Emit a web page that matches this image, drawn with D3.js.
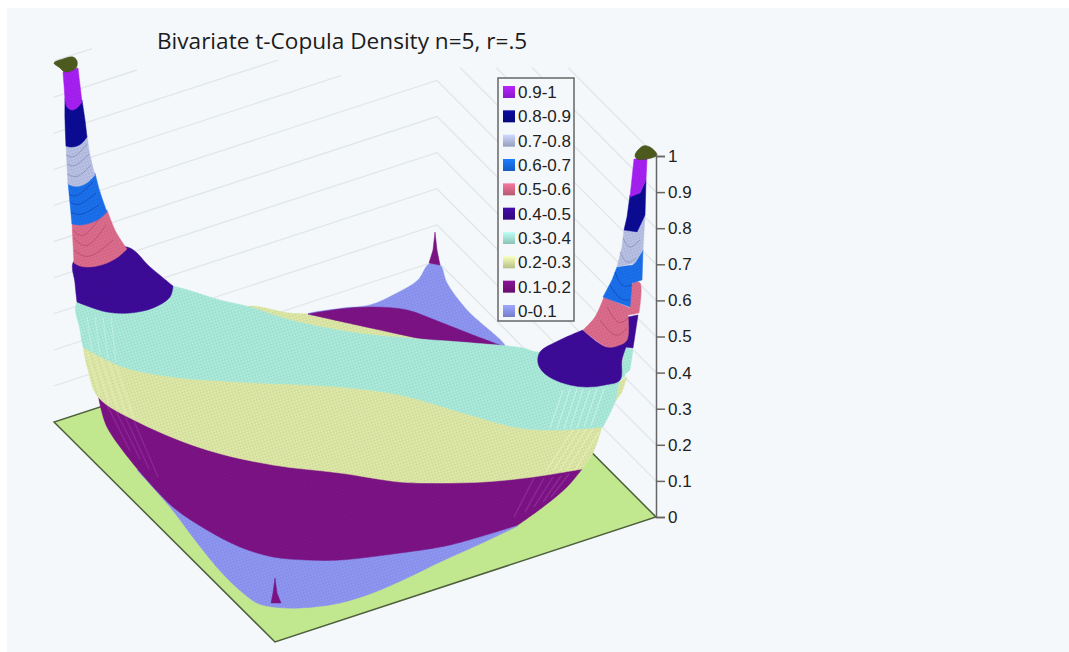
<!DOCTYPE html>
<html>
<head>
<meta charset="utf-8">
<title>Bivariate t-Copula Density</title>
<script src="https://cdn.jsdelivr.net/npm/d3@7"></script>
<style>
  html, body { margin: 0; padding: 0; background: #fff; }
  svg { display: block; }
</style>
</head>
<body>
<div id="chart"></div>
<script>
// Legend + axis values
const legendLabels = ["0.9-1", "0.8-0.9", "0.7-0.8", "0.6-0.7", "0.5-0.6", "0.4-0.5", "0.3-0.4", "0.2-0.3", "0.1-0.2", "0-0.1"];
const legendColors = ["#a41ff0", "#0a0a92", "#b6bee2", "#1a6eea", "#d96a8b", "#3c0a96", "#a8e8d8", "#dbe5a4", "#7b1284", "#8c94f0"];
const zTicks = [0, 0.1, 0.2, 0.3, 0.4, 0.5, 0.6, 0.7, 0.8, 0.9, 1];

// Walls: where each gridline stops along the view (the top ones fade out in the source)
const wallLevels = [0.1, 0.2, 0.3, 0.4, 0.5, 0.6, 0.7, 0.8, 0.9, 1];
const leftWallEnd = [383, 383, 383, 383, 383, 383, 287, 224, 83, 38];
const rightWallStart = [383, 383, 383, 383, 383, 383, 406, 442, 478, 514];

// Everything below as [across, rise] in the view plane
const floorCorners = [[0, 95], [221, -125], [602, 0], [383, 220]];

// back fin, behind the bowl
const finYellow = [[191, 209], [236, 204], [254, 203], [303, 197], [353, 187], [403, 177], [436, 171], [451, 170], [451, 157], [196, 177]];
const finBlue = [[375, 253], [386, 252], [393, 234], [413, 207], [451, 170], [353, 197], [254, 203], [289, 209], [316, 212], [343, 224], [364, 237]];
const finPurple = [[254, 203], [254, 203], [286, 208], [319, 210], [353, 207], [386, 195], [419, 182], [451, 170], [451, 170], [403, 172], [303, 192]];
const finSpike = [[381, 285], [383, 267], [386, 252], [375, 254], [379, 267]];

// slivers behind the right spike
const sliverTeal = [[571, 170], [579, 167], [576, 147], [568, 140], [566, 137]];
const sliverYellow = [[566, 136], [573, 140], [568, 125], [561, 115]];

// the bowl, lowest band first so each one overlaps the previous
const bowlBlue = [[83, 47], [83, 47], [116, 10], [141, -23], [168, -56], [189, -76], [203, -86], [219, -90], [246, -91], [286, -86], [321, -75], [353, -61], [386, -45], [426, -27], [464, -9], [464, -9], [346, 17], [146, 37]];
const bowlPurple = [[44, 123], [44, 123], [86, 97], [153, 70], [219, 55], [286, 47], [346, 38], [376, 37], [429, 38], [479, 43], [528, 48], [528, 48], [513, 30], [489, 10], [464, -8], [464, -8], [396, -28], [346, -36], [286, -43], [253, -43], [219, -40], [186, -30], [153, -13], [119, 10], [86, 45], [86, 45], [53, 90]];
const bowlYellow = [[29, 170], [29, 170], [34, 147], [44, 120], [86, 94], [153, 67], [219, 52], [286, 44], [346, 35], [376, 34], [429, 35], [479, 40], [528, 48], [528, 48], [539, 64], [549, 94], [549, 94], [506, 91], [466, 93], [416, 106], [346, 126], [286, 134], [186, 139], [119, 144], [69, 154]];
const bowlTeal = [[23, 215], [26, 187], [29, 170], [29, 170], [69, 150], [119, 140], [186, 135], [286, 130], [346, 122], [416, 102], [466, 89], [506, 87], [549, 90], [549, 90], [561, 115], [566, 136], [571, 142], [546, 167], [483, 165], [469, 169], [419, 174], [353, 179], [303, 184], [236, 197], [196, 210], [166, 217], [119, 231], [76, 237]];
const frontSpike = [[221, -61], [219, -76], [217, -86], [227, -86], [223, -76]];

// left spike, each band: top, right edge, bottom arc, left edge
const leftLobe = [[20, 256], [73, 270], [96, 250], [119, 231], [119, 231], [116, 220], [99, 209], [76, 204], [53, 205], [36, 210], [23, 215], [23, 215], [21, 234]];
const leftPink = [[18, 295], [18, 295], [53, 307], [53, 307], [62, 285], [73, 268], [73, 268], [64, 260], [53, 254], [43, 251], [33, 250], [26, 251], [20, 254], [20, 254], [19, 274]];
const leftBlue = [[14, 335], [14, 335], [41, 344], [41, 344], [46, 325], [53, 305], [53, 305], [45, 298], [36, 294], [26, 292], [18, 293], [18, 293], [16, 314]];
const leftLavender = [[12, 373], [12, 373], [33, 382], [33, 382], [36, 362], [41, 342], [41, 342], [34, 335], [26, 331], [19, 331], [14, 333], [14, 333], [13, 352]];
const leftNavy = [[11, 419], [11, 419], [28, 417], [28, 417], [31, 397], [33, 380], [33, 380], [28, 374], [23, 371], [16, 370], [12, 371], [12, 371], [11, 397]];
const leftMagenta = [[9, 445], [9, 445], [24, 449], [24, 449], [26, 432], [28, 415], [28, 415], [23, 409], [18, 407], [13, 410], [11, 417], [11, 417], [10, 432]];
const leftCap = [[0, 454], [9, 458], [19, 460], [23, 456], [22, 449], [11, 445], [6, 449]];

// right spike
const rightLobe = [[529, 187], [529, 187], [553, 170], [573, 177], [572, 170], [572, 170], [568, 157], [566, 137], [551, 132], [533, 130], [516, 132], [499, 138], [489, 145], [484, 154], [486, 165], [506, 177]];
const rightSliver = [[574, 200], [584, 202], [579, 169], [571, 170]];
const rightPink = [[550, 220], [550, 220], [576, 209], [576, 209], [579, 234], [586, 234], [585, 204], [585, 204], [574, 202], [574, 202], [573, 177], [563, 171], [553, 170], [540, 178], [529, 187], [529, 187], [541, 200]];
const rightBlue = [[563, 250], [579, 252], [589, 267], [588, 237], [578, 234], [576, 210], [549, 220], [558, 237]];
const rightLavender = [[570, 287], [583, 284], [584, 302], [591, 302], [589, 267], [581, 254], [563, 250], [568, 270]];
const rightNavy = [[576, 322], [586, 324], [592, 337], [591, 302], [583, 285], [570, 287], [573, 300]];
const rightMagenta = [[580, 358], [593, 358], [592, 337], [586, 324], [576, 320]];
const rightCap = [[581, 362], [589, 371], [596, 370], [603, 362], [593, 358], [583, 358]];

// mesh ribs where the bowl turns away, [across, rise] start and end
const ribsTealRight = [[[509, 127], [496, 89]], [[516, 128], [503, 88]], [[523, 128], [510, 88]], [[529, 128], [516, 88]], [[536, 127], [523, 89]], [[543, 128], [530, 90]], [[550, 128], [537, 91]]];
const ribsYellowRight = [[[519, 87], [492, 46]], [[526, 88], [499, 46]], [[533, 89], [506, 47]], [[540, 90], [513, 47]], [[545, 85], [521, 47]]];
const ribsPurpleRight = [[[515, 43], [497, 20]], [[507, 41], [489, 15]], [[499, 40], [480, 10]], [[490, 39], [471, 5]], [[480, 39], [460, 0]]];
const ribsYellowLeft = [[[33, 166], [46, 122]], [[40, 163], [55, 114]], [[47, 159], [64, 108]], [[55, 155], [72, 103]], [[62, 152], [80, 98]]];
const ribsPurpleLeft = [[[53, 112], [76, 66]], [[62, 106], [86, 58]], [[71, 101], [95, 48]], [[80, 96], [104, 40]]];
const ribsTealLeft = [[[33, 200], [38, 165]], [[41, 200], [46, 162]], [[49, 200], [54, 158]], [[57, 200], [62, 155]]];

// scallops on the spikes
const arcsPink = [[[20, 267], [36, 261], [59, 277]], [[20, 279], [34, 272], [52, 292]], [[19, 287], [30, 282], [46, 299]], [[546, 197], [561, 182], [573, 189]], [[553, 210], [564, 195], [574, 199]]];
const arcsBlue = [[[17, 305], [28, 303], [45, 312]], [[16, 315], [26, 313], [42, 324]], [[15, 323], [24, 322], [39, 335]], [[556, 232], [566, 219], [576, 217]], [[561, 245], [568, 232], [578, 232]]];
const arcsLavender = [[[13, 343], [24, 341], [37, 352]], [[13, 353], [22, 352], [35, 363]], [[12, 362], [21, 361], [33, 373]], [[566, 265], [573, 255], [582, 259]], [[569, 279], [576, 270], [586, 277]]];

// Set up dimensions
const width = 1069;
const height = 652;

const svg = d3.select("#chart")
    .append("svg")
    .attr("width", width)
    .attr("height", height);

const across = d3.scaleLinear().domain([0, 602]).range([54, 656]);
const rise = d3.scaleLinear().domain([0, 361]).range([517, 156]);
const z = d3.scaleLinear().domain([0, 1]).range([517, 156]);

// wall base height along the view, left wall then right wall
const wallBase = d3.scaleLinear().domain([0, 383, 602]).range([95, 220, 0]);

const colorOf = label => legendColors[legendLabels.indexOf(label)];

// Stipple pattern so the bands are not flat, the source surface is a dense mesh
const defs = svg.append("defs");
legendColors.forEach((c, i) => {
    const p = defs.append("pattern")
        .attr("id", "mesh" + i)
        .attr("width", 3)
        .attr("height", 3)
        .attr("patternUnits", "userSpaceOnUse")
        .attr("patternTransform", "rotate(-18)");
    p.append("rect").attr("width", 3).attr("height", 3).attr("fill", c);
    p.append("rect").attr("width", 1.5).attr("height", 1.5).attr("fill", d3.color(c).darker(0.22));
    p.append("rect").attr("x", 1.5).attr("y", 1.5).attr("width", 1).attr("height", 1).attr("fill", d3.color(c).brighter(0.2));

    const g = defs.append("linearGradient")
        .attr("id", "swatch" + i)
        .attr("x1", 0).attr("y1", 0).attr("x2", 0).attr("y2", 1);
    g.append("stop").attr("offset", "0%").attr("stop-color", d3.color(c).brighter(0.35));
    g.append("stop").attr("offset", "100%").attr("stop-color", d3.color(c).darker(0.5));
});
const fillOf = label => `url(#mesh${legendLabels.indexOf(label)})`;

// Panel
svg.append("rect")
    .attr("x", 7)
    .attr("y", 8)
    .attr("width", width)
    .attr("height", height)
    .attr("fill", "#f4f8fb");

// Wall gridlines
const wallLine = d3.line()
    .x(d => across(d[0]))
    .y(d => rise(d[1]));

wallLevels.forEach((lev, i) => {
    const at = a => [a, wallBase(a) + lev * 361];
    svg.append("path")
        .attr("d", wallLine([at(0), at(leftWallEnd[i])]))
        .attr("fill", "none")
        .attr("stroke", "#e2e7ea")
        .attr("stroke-width", 1.4);
    svg.append("path")
        .attr("d", wallLine([at(rightWallStart[i]), at(602)]))
        .attr("fill", "none")
        .attr("stroke", "#e2e7ea")
        .attr("stroke-width", 1.4);
});

// Floor
svg.append("path")
    .attr("d", d3.line().x(d => across(d[0])).y(d => rise(d[1])).curve(d3.curveLinearClosed)(floorCorners))
    .attr("fill", "#c1e78f")
    .attr("stroke", "#4d5f3c")
    .attr("stroke-width", 1.5);

// Surface bands
const smooth = d3.line()
    .x(d => across(d[0]))
    .y(d => rise(d[1]))
    .curve(d3.curveCatmullRomClosed.alpha(0.5));
const flat = d3.line()
    .x(d => across(d[0]))
    .y(d => rise(d[1]))
    .curve(d3.curveLinearClosed);
const ridge = d3.line()
    .x(d => across(d[0]))
    .y(d => rise(d[1]))
    .curve(d3.curveNatural);

function band(points, label, gen) {
    svg.append("path")
        .attr("d", gen(points))
        .attr("fill", fillOf(label))
        .attr("stroke", colorOf(label))
        .attr("stroke-width", 0.5);
}

function ribs(lines, color, opacity, w) {
    svg.append("g")
        .selectAll("path")
        .data(lines)
        .join("path")
        .attr("d", d => ridge(d))
        .attr("fill", "none")
        .attr("stroke", color)
        .attr("stroke-opacity", opacity)
        .attr("stroke-width", w);
}

band(finYellow, "0.2-0.3", smooth);
band(finBlue, "0-0.1", smooth);
band(finPurple, "0.1-0.2", smooth);
band(finSpike, "0.1-0.2", flat);
band(sliverTeal, "0.3-0.4", flat);
band(sliverYellow, "0.2-0.3", flat);

band(bowlBlue, "0-0.1", smooth);
band(bowlPurple, "0.1-0.2", smooth);
ribs(ribsPurpleRight, "#a94ab0", 0.4, 1.4);
ribs(ribsPurpleLeft, "#a94ab0", 0.35, 1.4);
band(bowlYellow, "0.2-0.3", smooth);
ribs(ribsYellowRight, "#f4f8c8", 0.5, 1.3);
ribs(ribsYellowLeft, "#f4f8c8", 0.4, 1.3);
band(bowlTeal, "0.3-0.4", smooth);
ribs(ribsTealRight, "#d6f7ee", 0.55, 1.3);
ribs(ribsTealLeft, "#d6f7ee", 0.4, 1.2);
band(frontSpike, "0.1-0.2", flat);

band(leftLobe, "0.4-0.5", smooth);
band(leftPink, "0.5-0.6", smooth);
band(leftBlue, "0.6-0.7", smooth);
band(leftLavender, "0.7-0.8", smooth);
band(leftNavy, "0.8-0.9", smooth);
band(leftMagenta, "0.9-1", smooth);

band(rightSliver, "0.4-0.5", flat);
band(rightLobe, "0.4-0.5", smooth);
band(rightPink, "0.5-0.6", smooth);
band(rightBlue, "0.6-0.7", flat);
band(rightLavender, "0.7-0.8", flat);
band(rightNavy, "0.8-0.9", flat);
band(rightMagenta, "0.9-1", flat);

ribs(arcsPink, "#a8405f", 0.55, 1);
ribs(arcsBlue, "#0c3fa8", 0.6, 1);
ribs(arcsLavender, "#7a82ab", 0.6, 1);

// Clipped tops of the two big spikes
[leftCap, rightCap].forEach(cap => {
    svg.append("path")
        .attr("d", smooth(cap))
        .attr("fill", "#4c5a1e")
        .attr("stroke", "#3f4c18")
        .attr("stroke-width", 0.5);
});

// z axis
const axis = svg.append("g")
    .attr("transform", `translate(${across(602)},0)`)
    .call(d3.axisRight(z).tickValues(zTicks).tickSize(9).tickPadding(3).tickFormat(d3.format("")));
axis.selectAll("path, line")
    .attr("stroke", "#666")
    .attr("stroke-width", 1.5);
axis.selectAll("text")
    .attr("fill", "#222")
    .style("font-family", "'Liberation Sans', Arial, sans-serif")
    .style("font-size", "17px");

// Title
svg.append("text")
    .attr("x", 157)
    .attr("y", 49)
    .attr("fill", "#1c1c1c")
    .style("font-family", "'Open Sans', sans-serif")
    .style("font-size", "22.6px")
    .text("Bivariate t-Copula Density n=5, r=.5");

// Legend
svg.append("rect")
    .attr("x", 498)
    .attr("y", 78)
    .attr("width", 76)
    .attr("height", 243)
    .attr("fill", "#f4f8fb")
    .attr("stroke", "#666")
    .attr("stroke-width", 1.5);

const legendY = d3.scalePoint().domain(legendLabels).range([92, 311]);
const legend = svg.selectAll(".legend-row")
    .data(legendLabels)
    .join("g")
    .attr("class", "legend-row")
    .attr("transform", d => `translate(503,${legendY(d)})`);
legend.append("rect")
    .attr("y", -6)
    .attr("width", 12)
    .attr("height", 12)
    .attr("fill", (d, i) => `url(#swatch${i})`);
legend.append("text")
    .attr("x", 15)
    .attr("dy", "0.36em")
    .attr("fill", "#222")
    .style("font-family", "'Liberation Sans', Arial, sans-serif")
    .style("font-size", "17px")
    .text(d => d);
</script>
</body>
</html>
